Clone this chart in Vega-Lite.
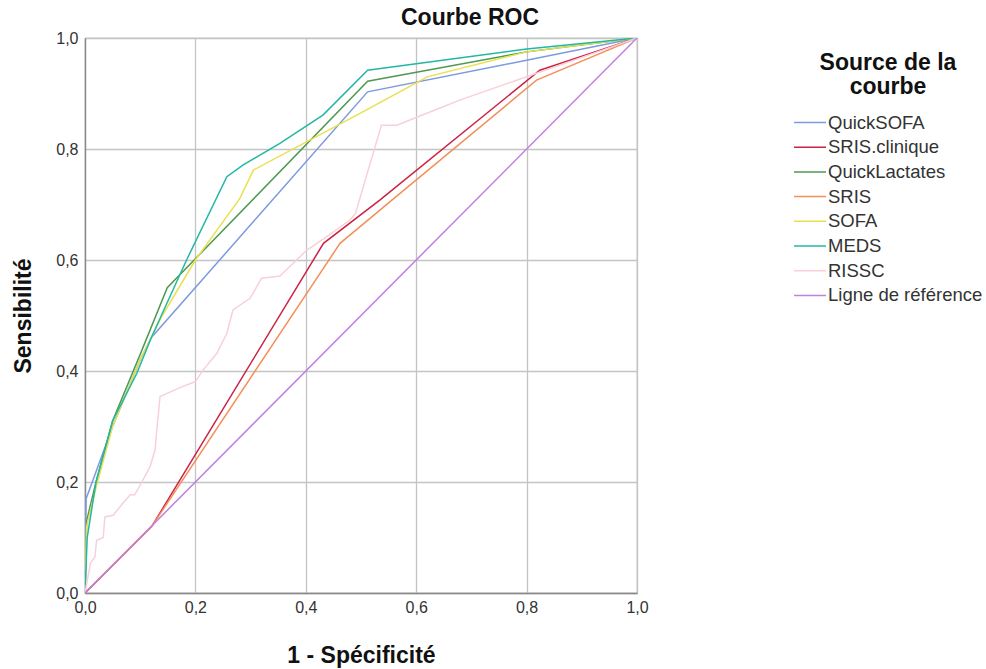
{
  "$schema": "https://vega.github.io/schema/vega-lite/v6.json",
  "autosize": "none",
  "padding": {"left": 85, "top": 38, "right": 349, "bottom": 76},
  "width": 552,
  "height": 555,
  "background": "white",
  "config": {
    "font": "Liberation Sans",
    "view": {"stroke": "#a8a8a8", "strokeWidth": 1.2},
    "axis": {
      "gridColor": "#c4c4c4",
      "gridWidth": 1.3,
      "domainColor": "#888888",
      "domainWidth": 1.3,
      "ticks": false,
      "labelFontSize": 16,
      "labelColor": "#333333",
      "titleFontSize": 23,
      "titleFontWeight": "bold",
      "titleColor": "#111111"
    }
  },
  "title": {"text": "Courbe ROC", "fontSize": 23, "fontWeight": "bold", "color": "#111111", "offset": 0, "dx": 109},
  "data": {"values": [
    {"s": "QuickSOFA", "k": 0, "x": 0, "y": 0},
    {"s": "QuickSOFA", "k": 1, "x": 0.002, "y": 0.17},
    {"s": "QuickSOFA", "k": 2, "x": 0.015, "y": 0.205},
    {"s": "QuickSOFA", "k": 3, "x": 0.05, "y": 0.3},
    {"s": "QuickSOFA", "k": 4, "x": 0.1, "y": 0.42},
    {"s": "QuickSOFA", "k": 5, "x": 0.12, "y": 0.46},
    {"s": "QuickSOFA", "k": 6, "x": 0.512, "y": 0.903},
    {"s": "QuickSOFA", "k": 7, "x": 0.8, "y": 0.96},
    {"s": "QuickSOFA", "k": 8, "x": 1, "y": 1},
    {"s": "SRIS.clinique", "k": 0, "x": 0, "y": 0},
    {"s": "SRIS.clinique", "k": 1, "x": 0.121, "y": 0.12},
    {"s": "SRIS.clinique", "k": 2, "x": 0.432, "y": 0.63},
    {"s": "SRIS.clinique", "k": 3, "x": 0.534, "y": 0.708},
    {"s": "SRIS.clinique", "k": 4, "x": 0.824, "y": 0.942},
    {"s": "SRIS.clinique", "k": 5, "x": 1, "y": 1},
    {"s": "QuickLactates", "k": 0, "x": 0, "y": 0},
    {"s": "QuickLactates", "k": 1, "x": 0.003, "y": 0.13},
    {"s": "QuickLactates", "k": 2, "x": 0.02, "y": 0.2},
    {"s": "QuickLactates", "k": 3, "x": 0.05, "y": 0.31},
    {"s": "QuickLactates", "k": 4, "x": 0.1, "y": 0.43},
    {"s": "QuickLactates", "k": 5, "x": 0.149, "y": 0.55},
    {"s": "QuickLactates", "k": 6, "x": 0.512, "y": 0.922},
    {"s": "QuickLactates", "k": 7, "x": 0.8, "y": 0.975},
    {"s": "QuickLactates", "k": 8, "x": 1, "y": 1},
    {"s": "SRIS", "k": 0, "x": 0, "y": 0},
    {"s": "SRIS", "k": 1, "x": 0.121, "y": 0.12},
    {"s": "SRIS", "k": 2, "x": 0.462, "y": 0.63},
    {"s": "SRIS", "k": 3, "x": 0.556, "y": 0.708},
    {"s": "SRIS", "k": 4, "x": 0.818, "y": 0.924},
    {"s": "SRIS", "k": 5, "x": 1, "y": 1},
    {"s": "SOFA", "k": 0, "x": 0, "y": 0},
    {"s": "SOFA", "k": 1, "x": 0.003, "y": 0.12},
    {"s": "SOFA", "k": 2, "x": 0.02, "y": 0.19},
    {"s": "SOFA", "k": 3, "x": 0.05, "y": 0.3},
    {"s": "SOFA", "k": 4, "x": 0.1, "y": 0.42},
    {"s": "SOFA", "k": 5, "x": 0.14, "y": 0.5},
    {"s": "SOFA", "k": 6, "x": 0.2, "y": 0.6},
    {"s": "SOFA", "k": 7, "x": 0.28, "y": 0.71},
    {"s": "SOFA", "k": 8, "x": 0.305, "y": 0.762},
    {"s": "SOFA", "k": 9, "x": 0.5, "y": 0.865},
    {"s": "SOFA", "k": 10, "x": 0.62, "y": 0.93},
    {"s": "SOFA", "k": 11, "x": 0.8, "y": 0.975},
    {"s": "SOFA", "k": 12, "x": 1, "y": 1},
    {"s": "MEDS", "k": 0, "x": 0, "y": 0},
    {"s": "MEDS", "k": 1, "x": 0.004, "y": 0.1},
    {"s": "MEDS", "k": 2, "x": 0.02, "y": 0.2},
    {"s": "MEDS", "k": 3, "x": 0.05, "y": 0.31},
    {"s": "MEDS", "k": 4, "x": 0.094, "y": 0.396},
    {"s": "MEDS", "k": 5, "x": 0.12, "y": 0.46},
    {"s": "MEDS", "k": 6, "x": 0.184, "y": 0.6},
    {"s": "MEDS", "k": 7, "x": 0.257, "y": 0.75},
    {"s": "MEDS", "k": 8, "x": 0.286, "y": 0.771},
    {"s": "MEDS", "k": 9, "x": 0.353, "y": 0.81},
    {"s": "MEDS", "k": 10, "x": 0.431, "y": 0.861},
    {"s": "MEDS", "k": 11, "x": 0.512, "y": 0.942},
    {"s": "MEDS", "k": 12, "x": 0.8, "y": 0.98},
    {"s": "MEDS", "k": 13, "x": 1, "y": 1},
    {"s": "RISSC", "k": 0, "x": 0, "y": 0},
    {"s": "RISSC", "k": 1, "x": 0.01, "y": 0.054},
    {"s": "RISSC", "k": 2, "x": 0.018, "y": 0.065},
    {"s": "RISSC", "k": 3, "x": 0.021, "y": 0.095},
    {"s": "RISSC", "k": 4, "x": 0.033, "y": 0.1},
    {"s": "RISSC", "k": 5, "x": 0.036, "y": 0.137},
    {"s": "RISSC", "k": 6, "x": 0.051, "y": 0.14},
    {"s": "RISSC", "k": 7, "x": 0.069, "y": 0.162},
    {"s": "RISSC", "k": 8, "x": 0.082, "y": 0.177},
    {"s": "RISSC", "k": 9, "x": 0.09, "y": 0.177},
    {"s": "RISSC", "k": 10, "x": 0.103, "y": 0.2},
    {"s": "RISSC", "k": 11, "x": 0.118, "y": 0.228},
    {"s": "RISSC", "k": 12, "x": 0.127, "y": 0.258},
    {"s": "RISSC", "k": 13, "x": 0.13, "y": 0.294},
    {"s": "RISSC", "k": 14, "x": 0.136, "y": 0.354},
    {"s": "RISSC", "k": 15, "x": 0.172, "y": 0.37},
    {"s": "RISSC", "k": 16, "x": 0.2, "y": 0.381},
    {"s": "RISSC", "k": 17, "x": 0.214, "y": 0.402},
    {"s": "RISSC", "k": 18, "x": 0.239, "y": 0.432},
    {"s": "RISSC", "k": 19, "x": 0.257, "y": 0.468},
    {"s": "RISSC", "k": 20, "x": 0.268, "y": 0.51},
    {"s": "RISSC", "k": 21, "x": 0.299, "y": 0.531},
    {"s": "RISSC", "k": 22, "x": 0.32, "y": 0.567},
    {"s": "RISSC", "k": 23, "x": 0.353, "y": 0.571},
    {"s": "RISSC", "k": 24, "x": 0.402, "y": 0.618},
    {"s": "RISSC", "k": 25, "x": 0.438, "y": 0.642},
    {"s": "RISSC", "k": 26, "x": 0.48, "y": 0.672},
    {"s": "RISSC", "k": 27, "x": 0.49, "y": 0.684},
    {"s": "RISSC", "k": 28, "x": 0.537, "y": 0.843},
    {"s": "RISSC", "k": 29, "x": 0.565, "y": 0.843},
    {"s": "RISSC", "k": 30, "x": 0.643, "y": 0.874},
    {"s": "RISSC", "k": 31, "x": 0.679, "y": 0.888},
    {"s": "RISSC", "k": 32, "x": 0.782, "y": 0.924},
    {"s": "RISSC", "k": 33, "x": 1, "y": 1},
    {"s": "Ligne de référence", "k": 0, "x": 0, "y": 0},
    {"s": "Ligne de référence", "k": 1, "x": 1, "y": 1}
  ]},
  "mark": {"type": "line", "strokeWidth": 1.5, "clip": true},
  "encoding": {
    "x": {
      "field": "x", "type": "quantitative",
      "scale": {"domain": [0, 1], "nice": false, "zero": false},
      "axis": {"title": "1 - Spécificité", "values": [0, 0.2, 0.4, 0.6, 0.8, 1], "labelExpr": "replace(format(datum.value, '.1f'), '.', ',')", "labelPadding": 6, "titlePadding": 29, "labelFlush": false}
    },
    "y": {
      "field": "y", "type": "quantitative",
      "scale": {"domain": [0, 1], "nice": false, "zero": false},
      "axis": {"title": "Sensibilité", "values": [0, 0.2, 0.4, 0.6, 0.8, 1], "labelExpr": "replace(format(datum.value, '.1f'), '.', ',')", "labelPadding": 7, "titlePadding": 20, "labelFlush": false}
    },
    "color": {
      "field": "s", "type": "nominal",
      "scale": {
        "domain": ["QuickSOFA", "SRIS.clinique", "QuickLactates", "SRIS", "SOFA", "MEDS", "RISSC", "Ligne de référence"],
        "range": ["#7b9ae0", "#cc2244", "#4e9a50", "#f2905a", "#e8e050", "#22b8a4", "#f8d0d8", "#c080e0"]
      },
      "legend": {
        "title": ["Source de la", "courbe"],
        "orient": "none",
        "legendX": 708,
        "legendY": 14,
        "titleFontSize": 23,
        "titleFontWeight": "bold",
        "titleColor": "#111111",
        "titleAlign": "center",
        "titleAnchor": "middle",
        "titleLineHeight": 24,
        "titlePadding": 13,
        "labelFontSize": 18.5,
        "labelColor": "#333333",
        "labelLimit": 300,
        "symbolType": "M-1,0H2.37",
        "symbolSize": 361,
        "symbolStrokeWidth": 1.5,
        "labelOffset": 14,
        "rowPadding": 4.7
      }
    },
    "order": {"field": "k", "type": "quantitative"}
  }
}
